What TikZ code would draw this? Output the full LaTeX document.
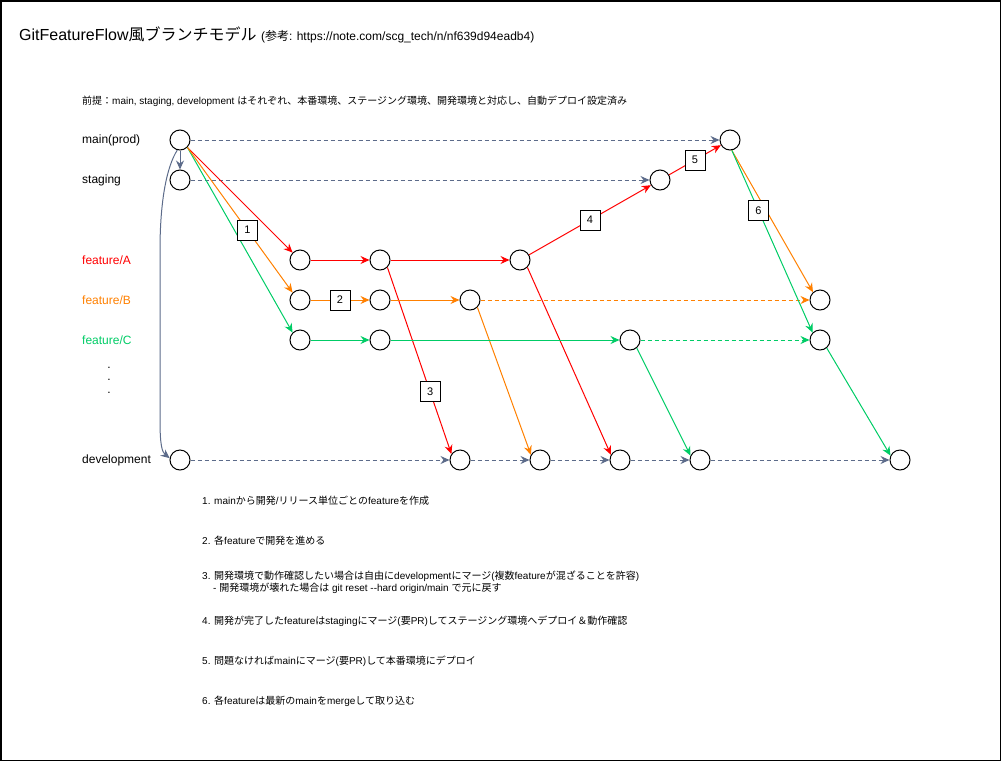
\documentclass[tikz,border=0pt]{standalone}
\usepackage{fontspec}
\setmainfont{Liberation Sans}
\newfontfamily\jp{Noto Sans CJK JP}
\usetikzlibrary{arrows.meta}
\makeatletter
\def\setcjkrange#1#2{\count@=#1\relax\loop\XeTeXcharclass\count@=10\relax\ifnum\count@<#2\relax\advance\count@ by 1\relax\repeat}
\makeatother
\setcjkrange{"3000}{"30FF}
\setcjkrange{"4E00}{"9FFF}
\setcjkrange{"FF00}{"FFEF}
\XeTeXinterchartokenstate=1
\XeTeXinterchartoks 0 10 = {\jp}
\XeTeXinterchartoks 4095 10 = {\jp}
\XeTeXinterchartoks 10 0 = {\rmfamily}
\XeTeXinterchartoks 10 4095 = {\rmfamily}
\definecolor{cred}{HTML}{FF0000}
\definecolor{corange}{HTML}{FF8000}
\definecolor{cgreen}{HTML}{00CC66}
\definecolor{cgray}{HTML}{5C6B8A}
\tikzset{
 circ/.style={circle, draw, fill=white, minimum size=20pt, inner sep=0pt, line width=1pt},
 numbox/.style={draw=black, fill=white, minimum size=20pt, inner sep=0pt, line width=1pt, text=black, font=\fontsize{11}{13}\selectfont},
 conn/.style={line width=1pt, -{Stealth[length=9pt,width=8pt,inset=3pt]}},
 gl/.style={conn, draw=cgray},
 rd/.style={conn, draw=cred},
 og/.style={conn, draw=corange},
 gn/.style={conn, draw=cgreen},
 dsh/.style={dash pattern=on 4pt off 3pt},
 lab/.style={anchor=west, inner sep=0pt, font=\fontsize{12}{14}\selectfont},
 note/.style={anchor=west, inner sep=0pt, font=\fontsize{10}{11.5}\selectfont, align=left},
}
\begin{document}
\begin{tikzpicture}[x=1pt,y=-1pt]
\useasboundingbox (0,0) rectangle (1001,761);
\draw[line width=1.5pt] (0.75,0.75) rectangle (1000.25,760.25);
% title
\node[anchor=base west, inner sep=0pt] (title) at (19,40) {\fontsize{16}{19}\selectfont GitFeatureFlow風ブランチモデル {\fontsize{12}{14}\selectfont (参考: https://note.com/scg\_tech/n/nf639d94eadb4)}};
\node[note] (premise) at (82,101) {前提：main, staging, development はそれぞれ、本番環境、ステージング環境、開発環境と対応し、自動デプロイ設定済み};
% row labels
\node[lab] (lmain) at (82,140) {main(prod)};
\node[lab] (lstg) at (82,180) {staging};
\node[lab, text=cred] (la) at (82,260) {feature/A};
\node[lab, text=corange] (lb) at (82,300) {feature/B};
\node[lab, text=cgreen] (lc) at (82,340) {feature/C};
\node[lab] (ldev) at (82,460) {development};
\node[align=center, inner sep=0pt, font=\fontsize{12}{12.5}\selectfont] (dots) at (109,380) {.\\.\\.};
% commits
\node[circ] (m0) at (180,140) {};
\node[circ] (s0) at (180,180) {};
\node[circ] (m1) at (730,140) {};
\node[circ] (s1) at (660,180) {};
\node[circ] (a1) at (300,260) {};
\node[circ] (a2) at (380,260) {};
\node[circ] (a3) at (520,260) {};
\node[circ] (b1) at (300,300) {};
\node[circ] (b2) at (380,300) {};
\node[circ] (b3) at (470,300) {};
\node[circ] (b4) at (820,300) {};
\node[circ] (c1) at (300,340) {};
\node[circ] (c2) at (380,340) {};
\node[circ] (c3) at (630,340) {};
\node[circ] (c4) at (820,340) {};
\node[circ] (d0) at (180,460) {};
\node[circ] (d1) at (460,460) {};
\node[circ] (d2) at (540,460) {};
\node[circ] (d3) at (620,460) {};
\node[circ] (d4) at (700,460) {};
\node[circ] (d5) at (900,460) {};
% gray
\draw[gl] (m0) -- (s0);
\draw[gl] (m0.255) .. controls (167,166) and (160,200) .. (160,250) -- (160,420) .. controls (160,445) and (162,452) .. (d0.170);
\draw[gl,dsh] (m0) -- (m1);
\draw[gl,dsh] (s0) -- (s1);
\draw[gl,dsh] (d0) -- (d1);
\draw[gl,dsh] (d1) -- (d2);
\draw[gl,dsh] (d2) -- (d3);
\draw[gl,dsh] (d3) -- (d4);
\draw[gl,dsh] (d4) -- (d5);
% red
\draw[rd] (m0.-45) -- (a1.135);
\draw[rd] (a1) -- (a2);
\draw[rd] (a2) -- (a3);
\draw[rd] (a2.-45) -- node[numbox, pos=0.667] (n3) {3} (d1.145);
\draw[rd] (a3) -- node[numbox] (n4) {4} (s1);
\draw[rd] (s1) -- node[numbox] (n5) {5} (m1);
\draw[rd] (a3.-45) -- (d3.150);
% green (from main)
\draw[gn] (m0.-45) -- (c1.135);
% orange
\draw[og] (m0.-45) -- node[numbox, pos=0.57] (n1) {1} (b1.135);
\draw[og] (b1) -- node[numbox] (n2) {2} (b2);
\draw[og] (b2) -- (b3);
\draw[og,dsh] (b3) -- (b4);
\draw[og] (b3.-45) -- (d2.150);
\draw[og] (m1.-80) -- (b4.132);
% green
\draw[gn] (c1) -- (c2);
\draw[gn] (c2) -- (c3);
\draw[gn,dsh] (c3) -- (c4);
\draw[gn] (c3.-50) -- (d4.155);
\draw[gn] (m1.-80) -- node[numbox, pos=0.33] (n6) {6} (c4.135);
\draw[gn] (c4.-50) -- (d5.155);
% notes
\node[note] (note1) at (202,501) {1. mainから開発/リリース単位ごとのfeatureを作成};
\node[note] (note2) at (202,541) {2. 各featureで開発を進める};
\node[note] (note3) at (202,582) {3. 開発環境で動作確認したい場合は自由にdevelopmentにマージ(複数featureが混ざることを許容)\\\hspace*{11pt}- 開発環境が壊れた場合は git reset -{}-hard origin/main で元に戻す};
\node[note] (note4) at (202,621) {4. 開発が完了したfeatureはstagingにマージ(要PR)してステージング環境へデプロイ＆動作確認};
\node[note] (note5) at (202,661) {5. 問題なければmainにマージ(要PR)して本番環境にデプロイ};
\node[note] (note6) at (202,701) {6. 各featureは最新のmainをmergeして取り込む};
\end{tikzpicture}
\end{document}
